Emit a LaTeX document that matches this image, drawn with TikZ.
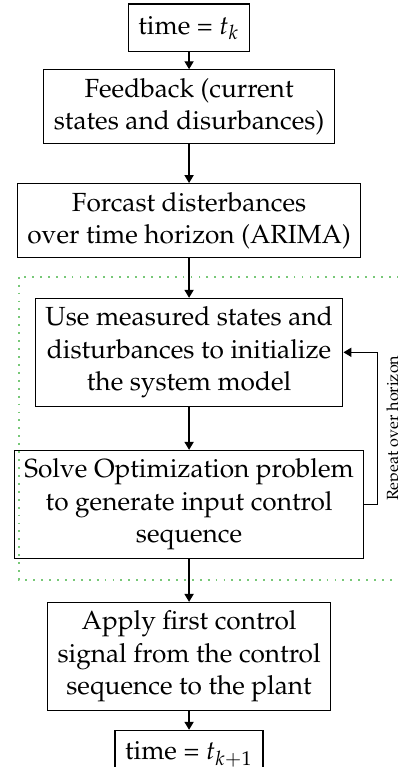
\documentclass[tikz,border=0pt]{standalone}
\usepackage[T1]{fontenc}
\usepackage{mathpazo}
\usetikzlibrary{arrows.meta, positioning}
\definecolor{loopgreen}{RGB}{120,200,120}
\tikzset{
  block/.style={rectangle, draw=black, line width=0.4pt, align=center,
                inner xsep=3.3pt, inner ysep=2.75pt,
                font=\fontsize{8.6pt}{10.6pt}\selectfont},
  timebox/.style={block, inner ysep=2.4pt, minimum height=15.6pt},
  arrow/.style={-{Triangle[width=3pt,length=2.6pt]}, line width=0.4pt},
  looplabel/.style={font=\fontsize{5.3pt}{6pt}\selectfont, rotate=90,
                    anchor=north, inner sep=2.7pt},
  horizon/.style={draw=loopgreen, line width=0.6pt, dotted},
}
\begin{document}
\begin{tikzpicture}
  % frame of the reference picture (tk sits at the origin)
  \useasboundingbox (-62pt,9.1pt) rectangle ++(130.5pt,-251.5pt);

  \node[timebox] (tk) at (0,0) {time = $t_k$};
  \node[block, below=5.6pt of tk] (feed) {Feedback (current\\states and disurbances)};
  \node[block, below=12.8pt of feed] (fcast) {Forcast disterbances\\over time horizon (ARIMA)};
  \node[block, below=13.1pt of fcast] (init) {Use measured states and\\disturbances to initialize\\the system model};
  \node[block, below=14.1pt of init] (solve) {Solve Optimization problem\\to generate input control\\sequence};
  \node[block, below=14.1pt of solve] (apply) {Apply first control\\signal from the control\\sequence to the plant};
  \node[timebox, below=6.2pt of apply] (tk1) {time = $t_{k+1}$};

  % horizon loop frame
  \coordinate (hz_nw) at ([xshift=-55.7pt,yshift=6.9pt]init.north);
  \coordinate (hz_se) at ([xshift=80pt,yshift=-6.9pt]solve.south);
  \draw[horizon] (hz_nw) rectangle (hz_se);

  \draw[arrow] (tk) -- (feed);
  \draw[arrow] (feed) -- (fcast);
  \draw[arrow] (fcast) -- (init);
  \draw[arrow] (init) -- (solve);
  \draw[arrow] (solve) -- (apply);
  \draw[arrow] (apply) -- (tk1);
  \draw[arrow] (solve.east) -- ++(4.3pt,0) |- node[looplabel, pos=0.25]{Repeat over horizon} (init.east);
\end{tikzpicture}
\end{document}
